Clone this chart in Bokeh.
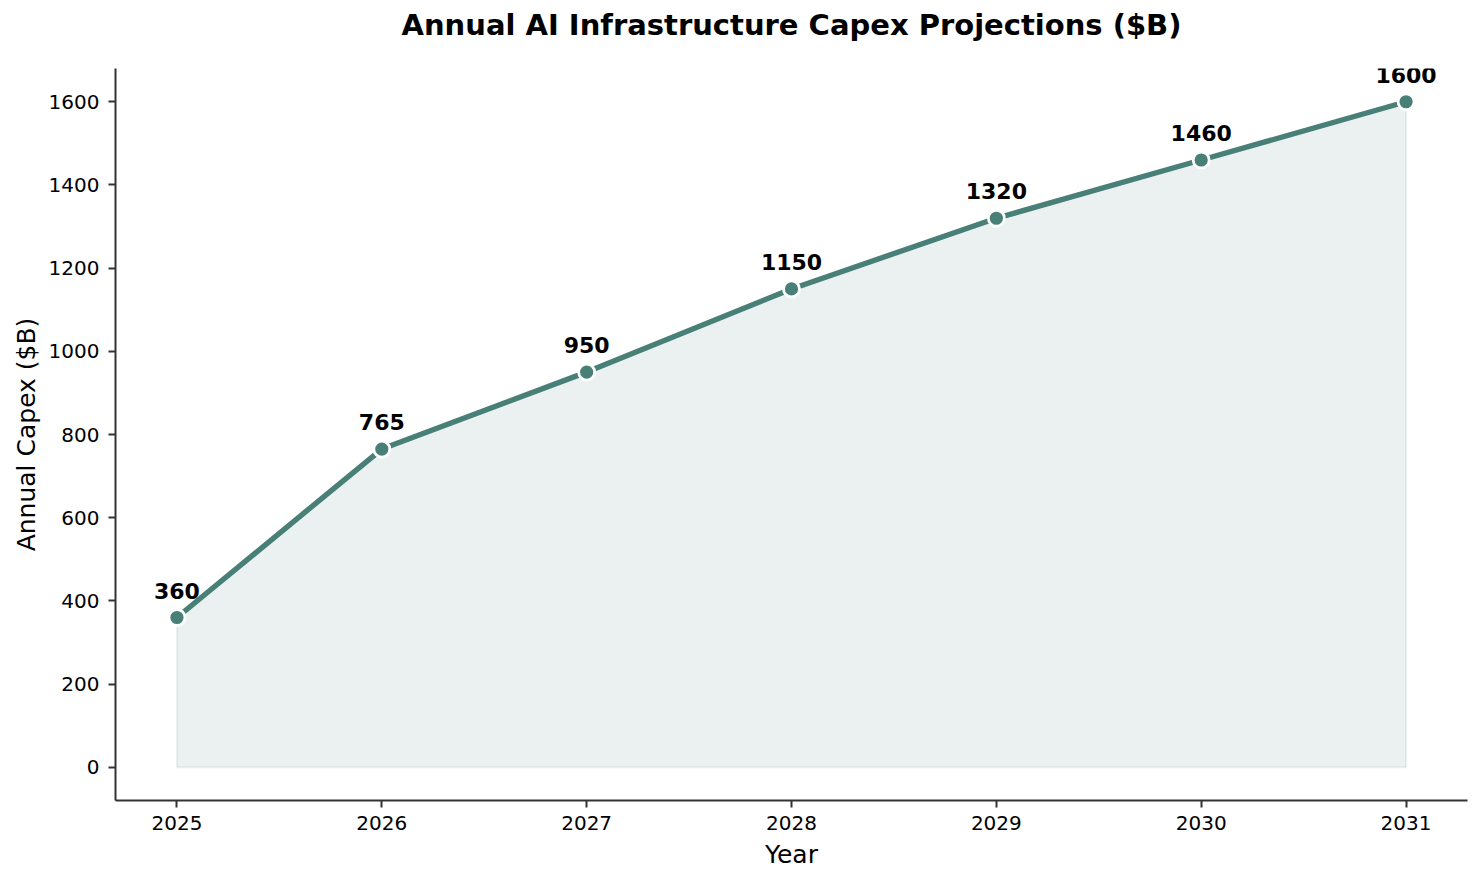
from bokeh.plotting import figure
from bokeh.models import Range1d, FixedTicker, ColumnDataSource, Title
from bokeh.core.properties import value
from bokeh.embed import file_html
from bokeh.resources import INLINE

years = [2025, 2026, 2027, 2028, 2029, 2030, 2031]
capex = [360, 765, 950, 1150, 1320, 1460, 1600]
labels = [str(v) for v in capex]
y_ticks = [0, 200, 400, 600, 800, 1000, 1200, 1400, 1600]
title_text = "Annual AI Infrastructure Capex Projections ($B)"

LINE = "#487f77"
FONT = "DejaVu Sans"

src = ColumnDataSource(dict(x=years, y=capex, lab=labels, base=[0] * len(years)))

p = figure(width=1482, height=884, output_backend="svg", toolbar_location=None,
           x_range=Range1d(2024.7, 2031.3), y_range=Range1d(-80, 1680),
           min_border_left=115, min_border_right=15, min_border_top=68, min_border_bottom=84)

# spacer panel next to the frame, then the real title above it
p.add_layout(Title(text=" ", text_font_size="1px", standoff=24), "above")
p.add_layout(Title(text=title_text, align="center", text_font=FONT, text_font_size="29px",
                   text_font_style="bold", text_color="#000000", standoff=0), "above")

p.grid.visible = False
p.outline_line_color = None

p.varea(x="x", y1="base", y2="y", source=src, fill_color=LINE, fill_alpha=0.11)
p.line(x=[years[0], years[0]], y=[0, capex[0]], line_color=LINE, line_alpha=0.1, line_width=2)
p.line(x=[years[-1], years[-1]], y=[0, capex[-1]], line_color=LINE, line_alpha=0.1, line_width=2)
p.line(x=[years[0], years[-1]], y=[0, 0], line_color=LINE, line_alpha=0.1, line_width=2)
p.line(x="x", y="y", source=src, line_color=LINE, line_width=5.4)
p.scatter(x="x", y="y", source=src, size=16, fill_color=LINE, line_color="white", line_width=2.8)
p.text(x="x", y="y", text="lab", source=src, text_font=value(FONT), text_font_size="22px",
       text_font_style="bold", text_color="black", text_align="center", text_baseline="bottom",
       y_offset=-19)

for ax in (p.xaxis[0], p.yaxis[0]):
    ax.axis_line_color = "#333333"
    ax.axis_line_width = 2
    ax.major_tick_line_color = "#333333"
    ax.major_tick_line_width = 2
    ax.major_tick_out = 7
    ax.major_tick_in = 0
    ax.minor_tick_line_color = None
    ax.major_label_text_font = FONT
    ax.major_label_text_font_size = "20px"
    ax.major_label_text_color = "black"
    ax.axis_label_text_font = FONT
    ax.axis_label_text_font_size = "25px"
    ax.axis_label_text_font_style = "normal"
    ax.axis_label_text_color = "black"

p.xaxis.ticker = FixedTicker(ticks=years)
p.yaxis.ticker = FixedTicker(ticks=y_ticks)
p.xaxis.axis_label = "Year"
p.yaxis.axis_label = "Annual Capex ($B)"
p.xaxis.major_label_standoff = 8
p.yaxis.major_label_standoff = 9
p.xaxis.axis_label_standoff = 7
p.yaxis.axis_label_standoff = 5

open("out.html", "w").write(file_html(p, INLINE))
